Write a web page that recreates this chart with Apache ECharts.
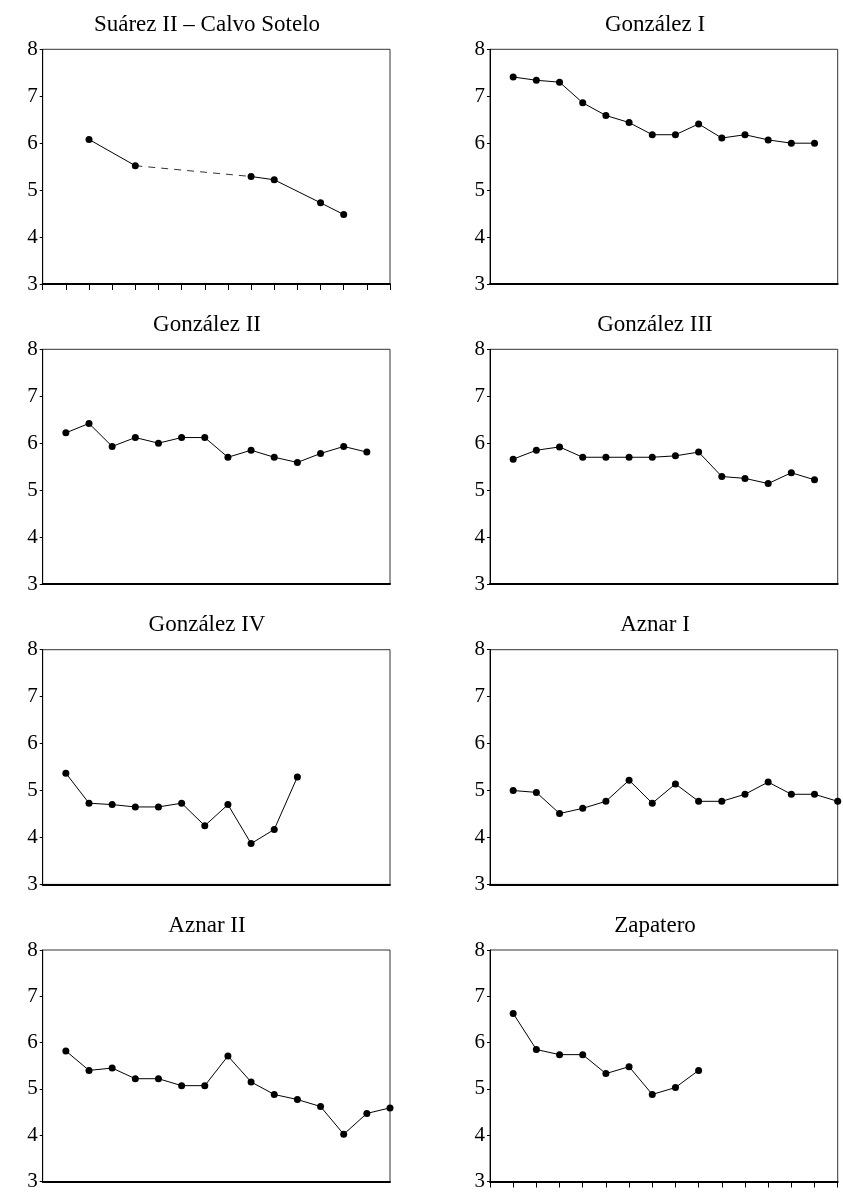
<!DOCTYPE html>
<html><head><meta charset="utf-8">
<script src="https://cdn.jsdelivr.net/npm/echarts@6/dist/echarts.min.js"></script>
<style>
html,body{margin:0;padding:0;background:#fff;width:843px;height:1192px;overflow:hidden;position:relative}
.p{position:absolute}
</style></head><body>
<div id="c0" class="p" style="left:0;top:0;width:397px;height:300px"></div>
<div id="c1" class="p" style="left:446px;top:0;width:397px;height:300px"></div>
<div id="c2" class="p" style="left:0;top:300px;width:397px;height:300px"></div>
<div id="c3" class="p" style="left:446px;top:300px;width:397px;height:300px"></div>
<div id="c4" class="p" style="left:0;top:600px;width:397px;height:300px"></div>
<div id="c5" class="p" style="left:446px;top:600px;width:397px;height:300px"></div>
<div id="c6" class="p" style="left:0;top:900px;width:397px;height:292px"></div>
<div id="c7" class="p" style="left:446px;top:900px;width:397px;height:292px"></div>
<script>
// ---- data ----
const titles = ["Suárez II – Calvo Sotelo", "González I", "González II", "González III",
                "González IV", "Aznar I", "Aznar II", "Zapatero"];
const yTicks = [3, 4, 5, 6, 7, 8];
const xSlots = 15; // positions 0..15 along the x axis

// Suárez II – Calvo Sotelo: observed positions and values (dashed link between 2nd and 3rd point)
const suarezPos = [2, 4, 9, 10, 12, 13];
const suarezVal = [6.08, 5.52, 5.29, 5.22, 4.73, 4.48];

const gonzalez1 = [7.41, 7.34, 7.30, 6.86, 6.59, 6.44, 6.18, 6.18, 6.41, 6.11, 6.18, 6.07, 6.00, 6.00];
const gonzalez2 = [6.22, 6.42, 5.93, 6.12, 6.00, 6.12, 6.12, 5.70, 5.85, 5.70, 5.59, 5.78, 5.93, 5.81];
const gonzalez3 = [5.66, 5.85, 5.92, 5.70, 5.70, 5.70, 5.70, 5.73, 5.81, 5.29, 5.25, 5.14, 5.37, 5.22];
const gonzalez4 = [5.37, 4.73, 4.70, 4.65, 4.65, 4.73, 4.25, 4.70, 3.87, 4.17, 5.29];
const aznar1 = [5.00, 4.96, 4.51, 4.62, 4.77, 5.22, 4.73, 5.14, 4.77, 4.77, 4.92, 5.18, 4.92, 4.92, 4.77, 5.15];
const aznar2 = [5.82, 5.40, 5.45, 5.22, 5.22, 5.07, 5.07, 5.71, 5.15, 4.88, 4.77, 4.62, 4.02, 4.47, 4.59, 4.79];
const zapatero = [6.63, 5.85, 5.74, 5.74, 5.33, 5.48, 4.88, 5.03, 5.40];

// ---- rendering ----
const FONT = "'Liberation Serif', 'Times New Roman', serif";
const seq = vals => vals.map((v, i) => [i + 1, v]);

const solidStyle = {
  type: 'line', clip: false, symbol: 'circle', symbolSize: 7,
  itemStyle: { color: '#000' }, lineStyle: { color: '#000', width: 1 },
  silent: true
};

function makeOption(idx, series, showXTicks, gridTop, gridH, leftCol) {
  const gl = leftCol ? 42.7 : 44;
  const gr = leftCol ? 7 : 5.3;
  return {
    animation: false,
    backgroundColor: '#fff',
    title: {
      text: titles[idx], left: leftCol ? 207 : 209, textAlign: 'center',
      top: gridTop - 36, padding: 0,
      textStyle: { fontFamily: FONT, fontSize: 23, fontWeight: 'normal', color: '#000' }
    },
    grid: { left: gl, right: gr, top: gridTop, height: gridH, show: true,
            borderColor: '#333', borderWidth: 1, backgroundColor: 'transparent' },
    xAxis: {
      type: 'value', min: 0, max: xSlots, interval: 1,
      axisLine: { show: true, onZero: false, lineStyle: { color: '#000', width: 2 } },
      axisTick: { show: showXTicks, length: 6, lineStyle: { color: '#000', width: 1 } },
      axisLabel: { show: false }, splitLine: { show: false }
    },
    yAxis: {
      type: 'value', min: yTicks[0], max: yTicks[yTicks.length - 1], interval: 1,
      axisLine: { show: true, lineStyle: { color: '#000', width: 1 } },
      axisTick: { show: true, length: 3, lineStyle: { color: '#000' } },
      axisLabel: { fontFamily: FONT, fontSize: 21, color: '#000', margin: 5 },
      splitLine: { show: false }
    },
    series: series
  };
}

const suarezPts = suarezPos.map((p, i) => [p, suarezVal[i]]);
const panels = [
  { series: [
      Object.assign({}, solidStyle, { data: suarezPts.slice(0, 2) }),
      { type: 'line', data: suarezPts.slice(1, 3), showSymbol: false, symbol: 'none', silent: true,
        lineStyle: { color: '#333', width: 1, type: [7, 6] } },
      Object.assign({}, solidStyle, { data: suarezPts.slice(2) })
    ], ticks: true },
  { series: [Object.assign({}, solidStyle, { data: seq(gonzalez1) })], ticks: false },
  { series: [Object.assign({}, solidStyle, { data: seq(gonzalez2) })], ticks: false },
  { series: [Object.assign({}, solidStyle, { data: seq(gonzalez3) })], ticks: false },
  { series: [Object.assign({}, solidStyle, { data: seq(gonzalez4) })], ticks: false },
  { series: [Object.assign({}, solidStyle, { data: seq(aznar1) })], ticks: false },
  { series: [Object.assign({}, solidStyle, { data: seq(aznar2) })], ticks: false },
  { series: [Object.assign({}, solidStyle, { data: seq(zapatero) })], ticks: true }
];
const gridTops = [49.3, 49.3, 49.3, 49.3, 49.7, 49.7, 50, 50];
panels.forEach((p, i) => {
  const chart = echarts.init(document.getElementById('c' + i), null, { renderer: 'canvas' });
  chart.setOption(makeOption(i, p.series, p.ticks, gridTops[i], 234.7, i % 2 === 0));
});
</script>
</body></html>
